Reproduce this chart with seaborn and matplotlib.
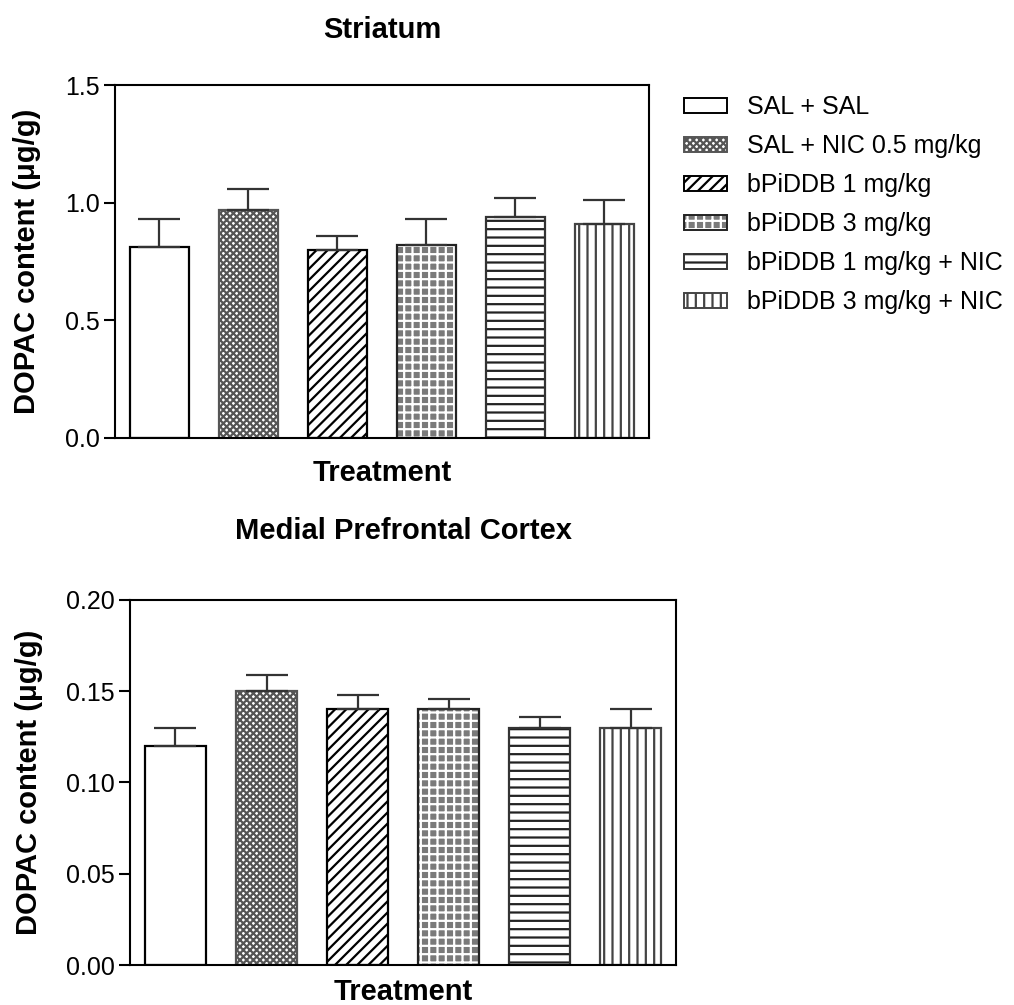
import numpy as np
import pandas as pd
import matplotlib
matplotlib.use('Agg')
import matplotlib.pyplot as plt
import matplotlib.colors as mcolors
from matplotlib.patches import Patch
import seaborn as sns

# Data
treatments = ['SAL + SAL', 'SAL + NIC 0.5 mg/kg', 'bPiDDB 1 mg/kg',
              'bPiDDB 3 mg/kg', 'bPiDDB 1 mg/kg + NIC', 'bPiDDB 3 mg/kg + NIC']
striatum_mean = [0.81, 0.97, 0.80, 0.82, 0.94, 0.91]
striatum_sem = [0.12, 0.09, 0.06, 0.11, 0.08, 0.10]
mpfc_mean = [0.120, 0.150, 0.140, 0.140, 0.130, 0.130]
mpfc_sem = [0.010, 0.009, 0.008, 0.006, 0.006, 0.010]

# bar styles: (face, hatch, hatch colour, edge)
styles = [
    ('white', '', 'black', 'black'),
    ('white', 'xxxxx', '#555555', '#555555'),
    ('white', '///', 'black', 'black'),
    ('#7a7a7a', '++', 'white', '#222222'),
    ('white', '--', '#222222', '#333333'),
    ('white', '||', '#444444', '#444444'),
]

sns.set_style('ticks')
plt.rcParams['font.family'] = ['Liberation Sans', 'DejaVu Sans']
plt.rcParams['hatch.linewidth'] = 1.6
plt.rcParams['axes.linewidth'] = 1.5
for k in ['text.color', 'axes.labelcolor', 'xtick.color', 'ytick.color', 'axes.edgecolor']:
    plt.rcParams[k] = 'black'


def style_bar(p, i):
    face, hatch, hcol, edge = styles[i]
    p.set_facecolor(face)
    p.set_edgecolor(edge)
    p.set_linewidth(1.6)
    p.set_hatch(hatch)
    p._hatch_color = mcolors.to_rgba(hcol)


def draw_panel(ax, means, sems, title, yticks, fmt, title_pad, xpad):
    df = pd.DataFrame({'treatment': treatments, 'value': means})
    sns.barplot(data=df, x='treatment', y='value', hue='treatment', order=treatments,
                hue_order=treatments, dodge=False, legend=False, errorbar=None,
                width=0.67, ax=ax)
    for i, p in enumerate(ax.patches):
        style_bar(p, i)
    x = np.arange(len(treatments))
    ax.errorbar(x, means, yerr=[np.zeros(len(sems)), sems], fmt='none',
                ecolor='#333333', elinewidth=1.6, capsize=15, capthick=1.6, zorder=1)
    ax.set_xlim(-0.5, 5.5)
    ax.set_ylim(yticks[0], yticks[-1])
    ax.set_yticks(yticks)
    ax.set_yticklabels([fmt.format(t) for t in yticks])
    ax.tick_params(axis='y', length=8, width=1.5, pad=3, labelsize=18, colors='black')
    ax.tick_params(axis='x', bottom=False, labelbottom=False)
    ax.set_xlabel('Treatment', fontsize=21, fontweight='bold', labelpad=xpad)
    ax.set_ylabel('DOPAC content (μg/g)', fontsize=21, fontweight='bold')
    ax.set_title(title, fontsize=21, fontweight='bold', pad=title_pad)
    for s in ax.spines.values():
        s.set_visible(True)
        s.set_color('black')
        s.set_linewidth(1.5)


fig = plt.figure(figsize=(10.14, 10.05), dpi=100)
ax1 = fig.add_axes([0.1134, 0.5642, 0.5266, 0.3512])
ax2 = fig.add_axes([0.1282, 0.0398, 0.5385, 0.3632])

draw_panel(ax1, striatum_mean, striatum_sem, 'Striatum',
           [0.0, 0.5, 1.0, 1.5], '{:.1f}', 34, 15)
draw_panel(ax2, mpfc_mean, mpfc_sem, 'Medial Prefrontal Cortex',
           [0.0, 0.05, 0.10, 0.15, 0.20], '{:.2f}', 44, 9)
ax1.yaxis.set_label_coords(-0.139, 0.5)
ax2.yaxis.set_label_coords(-0.159, 0.5)

handles = []
for i, t in enumerate(treatments):
    face, hatch, hcol, edge = styles[i]
    h = Patch(facecolor=face, edgecolor=edge, hatch=hatch, linewidth=1.4, label=t)
    h._hatch_color = mcolors.to_rgba(hcol)
    handles.append(h)
fig.legend(handles=handles, loc='upper left', bbox_to_anchor=(0.675, 0.905),
           frameon=False, fontsize=18, handlelength=1.7, handleheight=0.5,
           handletextpad=0.8, labelspacing=0.6, borderpad=0, borderaxespad=0)

fig.savefig('out.png', dpi=100)
